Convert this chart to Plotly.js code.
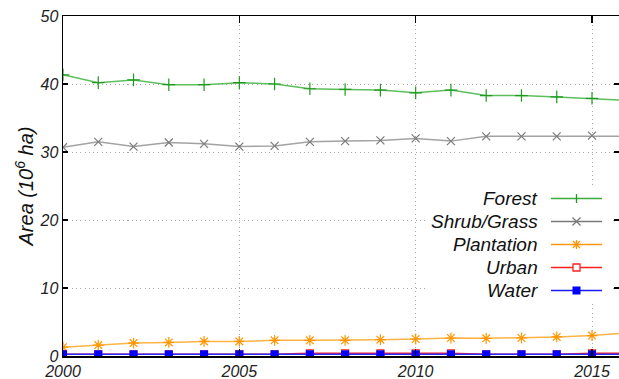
<!DOCTYPE html>
<html>
<head>
<meta charset="utf-8">
<script src="https://cdn.plot.ly/plotly-3.0.1.min.js"></script>
<style>html,body{margin:0;padding:0;background:#fff;}#chart{width:619px;height:379px;}</style>
</head>
<body>
<div id="chart"></div>
<script>
// ---- data ----
var years = [2000,2001,2002,2003,2004,2005,2006,2007,2008,2009,2010,2011,2012,2013,2014,2015,2016];
var forest     = [41.35,40.2,40.6,39.9,39.9,40.2,40.0,39.3,39.2,39.1,38.7,39.1,38.3,38.3,38.1,37.9,37.6];
var shrubGrass = [30.7,31.5,30.8,31.4,31.2,30.8,30.9,31.5,31.6,31.7,32.0,31.6,32.3,32.3,32.3,32.4,32.3];
var plantation = [1.3,1.6,1.9,2.0,2.15,2.15,2.3,2.3,2.3,2.4,2.5,2.65,2.6,2.65,2.8,3.0,3.4];
var urban      = [0.25,0.25,0.25,0.25,0.25,0.25,0.25,0.4,0.4,0.4,0.4,0.4,0.25,0.25,0.25,0.4,0.4];
var water      = [0.25,0.25,0.25,0.25,0.25,0.25,0.25,0.25,0.25,0.25,0.25,0.25,0.25,0.25,0.25,0.25,0.25];
var seriesNames = ["Forest","Shrub/Grass","Plantation","Urban","Water"];
var xTicks = [2000,2005,2010,2015];
var yTicks = [0,10,20,30,40,50];

// ---- styles ----
var styles = [
  {line:'#5cbf5c', legLine:'#3aaa3a', mk:'#1f9a1f', sym:'cross-thin', size:9, lw:1.2},
  {line:'#a3a3a3', legLine:'#7a7a7a', mk:'#7a7a7a', sym:'x-thin', size:8, lw:1.2},
  {line:'#ffb347', legLine:'#ff9a10', mk:'#ff9500', sym:'asterisk', size:9, lw:1.2},
  {line:'#ff2020', legLine:'#ff2020', mk:'#ff2020', sym:'square-open', size:7, lw:1.2},
  {line:'#2a2aff', legLine:'#1a1aff', mk:'#0000ff', sym:'square', size:8, lw:0}
];
var allSeries = [forest, shrubGrass, plantation, urban, water];

var traces = allSeries.map(function(vals, i){
  var s = styles[i];
  return {
    x: years, y: vals, type:'scatter', mode:'lines+markers', name: seriesNames[i],
    line:{color:s.line, width:1.5},
    marker:{symbol:s.sym, size:s.size, color:s.mk, line:{color:s.mk, width:s.lw}},
    cliponaxis:true, showlegend:false
  };
});

// ---- plot geometry (pixels) ----
var W=619, H=379, L=63, R=0, T=16, B=23;
var pw = W-L-R, ph = H-T-B;
function px2x(px){ return (px-L)/pw; }
function py2y(py){ return (H-B-py)/ph; }

var shapes = [];
var annotations = [];
// custom legend: white box, right-aligned text, sample on the right
shapes.push({type:'rect', xref:'paper', yref:'paper', x0:px2x(428), x1:px2x(612), y0:py2y(302), y1:py2y(187),
  fillcolor:'#ffffff', line:{width:0}, layer:'above'});
var legTop = 198.5, legStep = 23, lineX0 = 551, lineX1 = 602, mkX = 576.5, textRight = 540;
seriesNames.forEach(function(nm, i){
  var cy = legTop + i*legStep, s = styles[i];
  var yp = py2y(cy), xc = px2x(mkX);
  annotations.push({xref:'paper', yref:'paper', x:px2x(textRight), y:yp, xanchor:'right', yanchor:'middle',
    text:nm, showarrow:false, font:{family:'Liberation Sans, Arial, sans-serif', size:19, style:'italic', color:'#111'}});
  shapes.push({type:'line', xref:'paper', yref:'paper', x0:px2x(lineX0), x1:px2x(lineX1), y0:yp, y1:yp,
    line:{color:s.legLine, width:1.5}, layer:'above'});
  function seg(dx0,dy0,dx1,dy1,col,w){
    shapes.push({type:'line', xref:'paper', yref:'paper', xsizemode:'pixel', ysizemode:'pixel',
      xanchor:xc, yanchor:yp, x0:dx0, y0:dy0, x1:dx1, y1:dy1, line:{color:col, width:w||1.3}, layer:'above'});
  }
  if (s.sym === 'cross-thin') { seg(0,-4.5,0,4.5,s.mk); }
  else if (s.sym === 'x-thin') { seg(-4,-4,4,4,s.mk); seg(-4,4,4,-4,s.mk); }
  else if (s.sym === 'asterisk') { seg(0,-4.5,0,4.5,s.mk); seg(-4.5,0,4.5,0,s.mk); seg(-3.5,-3.5,3.5,3.5,s.mk); seg(-3.5,3.5,3.5,-3.5,s.mk); }
  else if (s.sym === 'square-open') {
    shapes.push({type:'rect', xref:'paper', yref:'paper', xsizemode:'pixel', ysizemode:'pixel', xanchor:xc, yanchor:yp,
      x0:-3.5, x1:3.5, y0:-3.5, y1:3.5, fillcolor:'#ffffff', line:{color:s.mk, width:1.3}, layer:'above'});
  }
  else if (s.sym === 'square') {
    shapes.push({type:'rect', xref:'paper', yref:'paper', xsizemode:'pixel', ysizemode:'pixel', xanchor:xc, yanchor:yp,
      x0:-4, x1:4, y0:-4, y1:4, fillcolor:s.mk, line:{width:0}, layer:'above'});
  }
});

var tickFont = {family:'Liberation Sans, Arial, sans-serif', size:16, style:'italic', color:'#222'};
var layout = {
  width:W, height:H, margin:{l:L, r:R, t:T, b:B, pad:0},
  paper_bgcolor:'#ffffff', plot_bgcolor:'#ffffff', showlegend:false,
  xaxis:{range:[2000, 2000 + (W-L)/((592-63)/15)], tickvals:xTicks, ticktext:xTicks.map(String),
    ticks:'inside', ticklen:7, tickwidth:1.2, tickcolor:'#000',
    showline:true, linecolor:'#000', linewidth:1.5, mirror:'ticks',
    showgrid:true, gridcolor:'#a8a8a8', griddash:'1px,3.3px', gridwidth:1, zeroline:false,
    tickfont:tickFont, automargin:false, fixedrange:true},
  yaxis:{range:[0,50], tickvals:yTicks, ticks:'inside', ticklen:5, tickwidth:1.2, tickcolor:'#000',
    showline:true, linecolor:'#000', linewidth:1.5, mirror:'ticks',
    showgrid:true, gridcolor:'#a8a8a8', griddash:'1px,3.3px', gridwidth:1, zeroline:false,
    tickfont:tickFont, automargin:false, fixedrange:true,
    title:{text:'Area (10<sup>6</sup> ha)', standoff:0,
      font:{family:'Liberation Sans, Arial, sans-serif', size:20, style:'italic', color:'#111'}}},
  shapes:shapes, annotations:annotations
};
Plotly.newPlot('chart', traces, layout, {staticPlot:true, displayModeBar:false});
</script>
</body>
</html>
